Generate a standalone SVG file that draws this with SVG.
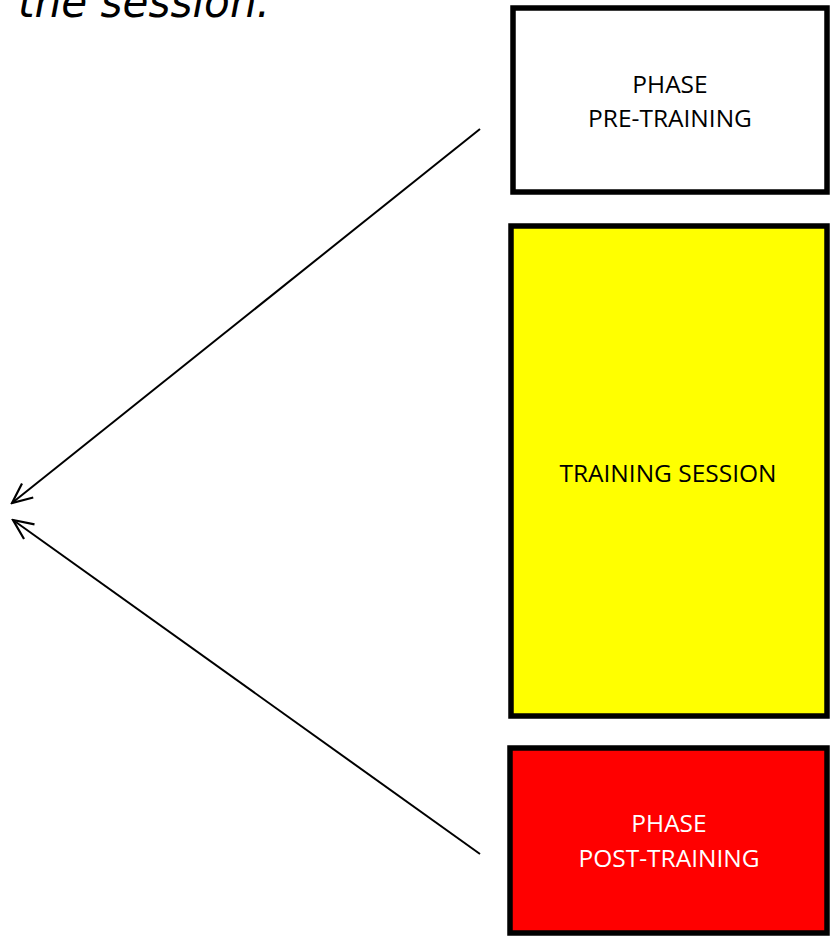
<svg xmlns="http://www.w3.org/2000/svg" width="836" height="937" viewBox="0 0 836 937">
<style>
.box{stroke:#000;stroke-width:5.5}
.lbl{font-family:"Open Sans","Liberation Sans",sans-serif;font-size:24.5px;text-anchor:middle}
.conn{stroke:#000;stroke-width:2;fill:none}
</style>
<defs>
<marker id="open" viewBox="0 0 24 24" refX="22" refY="12" markerWidth="24" markerHeight="24" markerUnits="userSpaceOnUse" orient="auto">
<path d="M2,3 L22,12 L2,21" fill="none" stroke="#000" stroke-width="2.2"/>
</marker>
</defs>
<rect width="836" height="937" fill="#fff"/>
<text x="18" y="17" font-family="'DejaVu Sans','Liberation Sans',sans-serif" font-style="italic" font-size="44" textLength="252" lengthAdjust="spacingAndGlyphs">the session.</text>
<g id="connectors">
<line class="conn" x1="480" y1="129" x2="12" y2="503" marker-end="url(#open)"/>
<line class="conn" x1="480" y1="854" x2="13" y2="520" marker-end="url(#open)"/>
</g>
<g id="pre-training">
<rect class="box" x="513" y="8" width="314" height="184" fill="#fff"/>
<text class="lbl" x="670" y="93">PHASE</text>
<text class="lbl" x="670" y="127">PRE-TRAINING</text>
</g>
<g id="training-session">
<rect class="box" x="511" y="226" width="316" height="490" fill="#ff0"/>
<text class="lbl" x="668" y="482">TRAINING SESSION</text>
</g>
<g id="post-training">
<rect class="box" x="510" y="748" width="317" height="185" fill="#f00"/>
<text class="lbl" x="669" y="832" fill="#fff">PHASE</text>
<text class="lbl" x="669" y="867" fill="#fff">POST-TRAINING</text>
</g>
</svg>
